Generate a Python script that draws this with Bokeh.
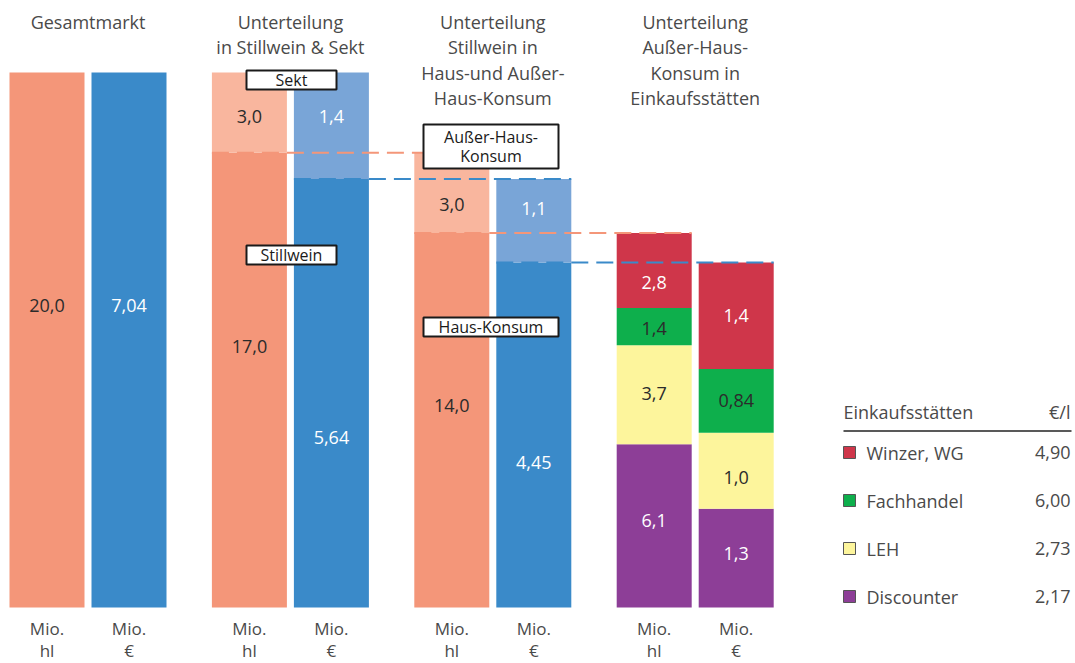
from bokeh.plotting import figure
from bokeh.models import Range1d
from bokeh.core.properties import value
from bokeh.embed import file_html
from bokeh.resources import INLINE

# ---------------- data ----------------
titles = [
    ["Gesamtmarkt"],
    ["Unterteilung", "in Stillwein & Sekt"],
    ["Unterteilung", "Stillwein in", "Haus-und Außer-", "Haus-Konsum"],
    ["Unterteilung", "Außer-Haus-", "Konsum in", "Einkaufsstätten"],
]
gesamt_hl = [20.0]
gesamt_eur = [7.04]
gesamt_hl_lbl = ["20,0"]
gesamt_eur_lbl = ["7,04"]

# bottom -> top : Stillwein, Sekt
still_sekt_hl = [17.0, 3.0]
still_sekt_eur = [5.64, 1.4]
still_sekt_hl_lbl = ["17,0", "3,0"]
still_sekt_eur_lbl = ["5,64", "1,4"]
still_sekt_names = ["Stillwein", "Sekt"]

# bottom -> top : Haus-Konsum, Außer-Haus-Konsum
haus_ausser_hl = [14.0, 3.0]
haus_ausser_eur = [4.54, 1.1]
haus_ausser_hl_lbl = ["14,0", "3,0"]
haus_ausser_eur_lbl = ["4,45", "1,1"]
haus_ausser_names = ["Haus-Konsum", "Außer-Haus-\nKonsum"]

# top -> bottom
shops = ["Winzer, WG", "Fachhandel", "LEH", "Discounter"]
shop_hl = [2.8, 1.4, 3.7, 6.1]
shop_eur = [1.4, 0.84, 1.0, 1.3]
shop_hl_lbl = ["2,8", "1,4", "3,7", "6,1"]
shop_eur_lbl = ["1,4", "0,84", "1,0", "1,3"]
shop_price = ["4,90", "6,00", "2,73", "2,17"]

unit_top = "Mio."
units = ["hl", "€"]
legend_title = "Einkaufsstätten"
legend_unit = "€/l"

# ---------------- style / layout ----------------
SALMON, SALMON_L = "#F49679", "#F9B69E"
BLUE, BLUE_L = "#3A8AC9", "#79A5D7"
SHOP_COL = ["#CF364A", "#0EAF4C", "#FDF59C", "#8D3E97"]
SHOP_TXT = ["white", "#2b2b2b", "#2b2b2b", "white"]
DARK = "#2b2b2b"
GREY = "#4a4a4a"
FONT = value("Open Sans")

W, H = 1075, 663
PAGE_L, PAGE_T = 0, 0
BASE_Y, FULL_TOP_Y = 607, 72          # page px of zero line and of the full-market top
BAR_W = 75
X0, GROUP_STEP, PAIR_STEP = 46.5, 202.4, 82

full_px = BASE_Y - FULL_TOP_Y
def rng(total):
    per = full_px / total
    return Range1d(-(PAGE_T + H - BASE_Y) / per, (BASE_Y - PAGE_T) / per)

p = figure(width=W, height=H, output_backend="svg", toolbar_location=None,
           x_range=Range1d(PAGE_L, PAGE_L + W), y_range=rng(gesamt_hl[0]),
           x_axis_location=None, y_axis_location=None, min_border=0)
p.extra_y_ranges = {"eur": rng(gesamt_eur[0]), "px": Range1d(PAGE_T + H, PAGE_T)}
p.grid.visible = False
p.outline_line_color = None
p.background_fill_color = "white"
p.border_fill_color = "white"

def hl_x(g):
    return X0 + g * GROUP_STEP
def eur_x(g):
    return X0 + g * GROUP_STEP + PAIR_STEP

# label y positions (page px) for each segment, bottom->top order
LBL_Y = {
    (0, "hl"): [305], (0, "eur"): [305],
    (1, "hl"): [346, 116], (1, "eur"): [437, 116],
    (2, "hl"): [405, 204], (2, "eur"): [462, 208],
    (3, "hl"): [520, 393, 328, 282], (3, "eur"): [553, 477, 400, 315],
}

bars = [
    (0, "hl", gesamt_hl, gesamt_hl_lbl, [SALMON], [DARK]),
    (0, "eur", gesamt_eur, gesamt_eur_lbl, [BLUE], ["white"]),
    (1, "hl", still_sekt_hl, still_sekt_hl_lbl, [SALMON, SALMON_L], [DARK, DARK]),
    (1, "eur", still_sekt_eur, still_sekt_eur_lbl, [BLUE, BLUE_L], ["white", "white"]),
    (2, "hl", haus_ausser_hl, haus_ausser_hl_lbl, [SALMON, SALMON_L], [DARK, DARK]),
    (2, "eur", haus_ausser_eur, haus_ausser_eur_lbl, [BLUE, BLUE_L], ["white", "white"]),
    (3, "hl", shop_hl[::-1], shop_hl_lbl[::-1], SHOP_COL[::-1], SHOP_TXT[::-1]),
    (3, "eur", shop_eur[::-1], shop_eur_lbl[::-1], SHOP_COL[::-1], SHOP_TXT[::-1]),
]

txt_x, txt_y, txt_t, txt_c = [], [], [], []
for g, ax, vals, lbls, cols, tcols in bars:
    cx = hl_x(g) if ax == "hl" else eur_x(g)
    bottoms, tops = [], []
    acc = 0.0
    for v in vals:
        bottoms.append(acc)
        acc += v
        tops.append(acc)
    kw = {} if ax == "hl" else {"y_range_name": "eur"}
    p.vbar(x=[cx] * len(vals), width=BAR_W, bottom=bottoms, top=tops,
           fill_color=cols, line_color=None, **kw)
    for lb, ly, tc in zip(lbls, LBL_Y[(g, ax)], tcols):
        txt_x.append(cx); txt_y.append(ly); txt_t.append(lb); txt_c.append(tc)

# dashed connector lines
DASH = "17 8"
for g, (hv, ev) in enumerate([(still_sekt_hl[0], still_sekt_eur[0]),
                             (haus_ausser_hl[0], haus_ausser_eur[0])], start=1):
    p.segment(x0=[hl_x(g) - BAR_W / 2], y0=[hv], x1=[hl_x(g + 1) + BAR_W / 2], y1=[hv],
              line_color=SALMON, line_width=2, line_dash=DASH)
    p.segment(x0=[eur_x(g) - BAR_W / 2], y0=[ev], x1=[eur_x(g + 1) + BAR_W / 2], y1=[ev],
              line_color=BLUE, line_width=2, line_dash=DASH, y_range_name="eur")

# value labels
p.text(x=txt_x, y=txt_y, text=txt_t, text_color=txt_c, text_font=FONT,
       text_font_size="18px", text_align="center", text_baseline="middle",
       y_range_name="px")

# boxed segment labels: (text lines, left, right, top, bottom)
boxes = [
    ([still_sekt_names[1]], 246, 336, 70, 89),
    ([still_sekt_names[0]], 246, 336, 245, 264),
    (haus_ausser_names[1].split("\n"), 423, 558, 124, 168),
    ([haus_ausser_names[0]], 423, 558, 317, 336),
]
for lines, l, r, t, b in boxes:
    p.quad(left=[l], right=[r], top=[t], bottom=[b], fill_color="white",
           line_color="#1a1a1a", line_width=2, y_range_name="px")
    n = len(lines)
    mid = (t + b) / 2
    step = 19
    ys = [mid + (i - (n - 1) / 2) * step for i in range(n)]
    p.text(x=[(l + r) / 2] * n, y=ys, text=lines, text_color="#1a1a1a",
           text_font=FONT, text_font_size="16px", text_align="center",
           text_baseline="middle", y_range_name="px")

# group titles
TITLE_Y0, TITLE_STEP = 21, 25.5
tx, ty, tt = [], [], []
for g, lines in enumerate(titles):
    cx = (hl_x(g) + eur_x(g)) / 2
    for i, ln in enumerate(lines):
        tx.append(cx); ty.append(TITLE_Y0 + i * TITLE_STEP); tt.append(ln)
p.text(x=tx, y=ty, text=tt, text_color=GREY, text_font=FONT, text_font_size="18px",
       text_align="center", text_baseline="middle", y_range_name="px")

# unit labels under bars
ux, uy, ut = [], [], []
for g in range(4):
    for k, cx in enumerate([hl_x(g), eur_x(g)]):
        ux += [cx, cx]; uy += [628, 650]; ut += [unit_top, units[k]]
p.text(x=ux, y=uy, text=ut, text_color=GREY, text_font=FONT, text_font_size="17px",
       text_align="center", text_baseline="middle", y_range_name="px")

# legend
LG_L, LG_R, LG_HEAD_Y, LG_LINE_Y = 843, 1070, 411, 430.5
LG_Y = [452, 500, 548, 596]
p.text(x=[LG_L], y=[LG_HEAD_Y], text=[legend_title], text_color=GREY, text_font=FONT,
       text_font_size="18px", text_align="left", text_baseline="middle", y_range_name="px")
p.text(x=[LG_R], y=[LG_HEAD_Y], text=[legend_unit], text_color=GREY, text_font=FONT,
       text_font_size="18px", text_align="right", text_baseline="middle", y_range_name="px")
p.segment(x0=[LG_L], y0=[LG_LINE_Y], x1=[LG_R + 1], y1=[LG_LINE_Y], line_color="#222222",
          line_width=1.5, y_range_name="px")
p.quad(left=[LG_L] * 4, right=[LG_L + 12] * 4, top=[y - 6 for y in LG_Y],
       bottom=[y + 6 for y in LG_Y], fill_color=SHOP_COL, line_color="#555555",
       line_width=1, y_range_name="px")
p.text(x=[LG_L + 23] * 4, y=LG_Y, text=shops, text_color=GREY, text_font=FONT,
       text_font_size="18px", text_align="left", text_baseline="middle", y_range_name="px")
p.text(x=[LG_R] * 4, y=LG_Y, text=shop_price, text_color=GREY, text_font=FONT,
       text_font_size="18px", text_align="right", text_baseline="middle", y_range_name="px")

open("out.html", "w").write(file_html(p, INLINE))
